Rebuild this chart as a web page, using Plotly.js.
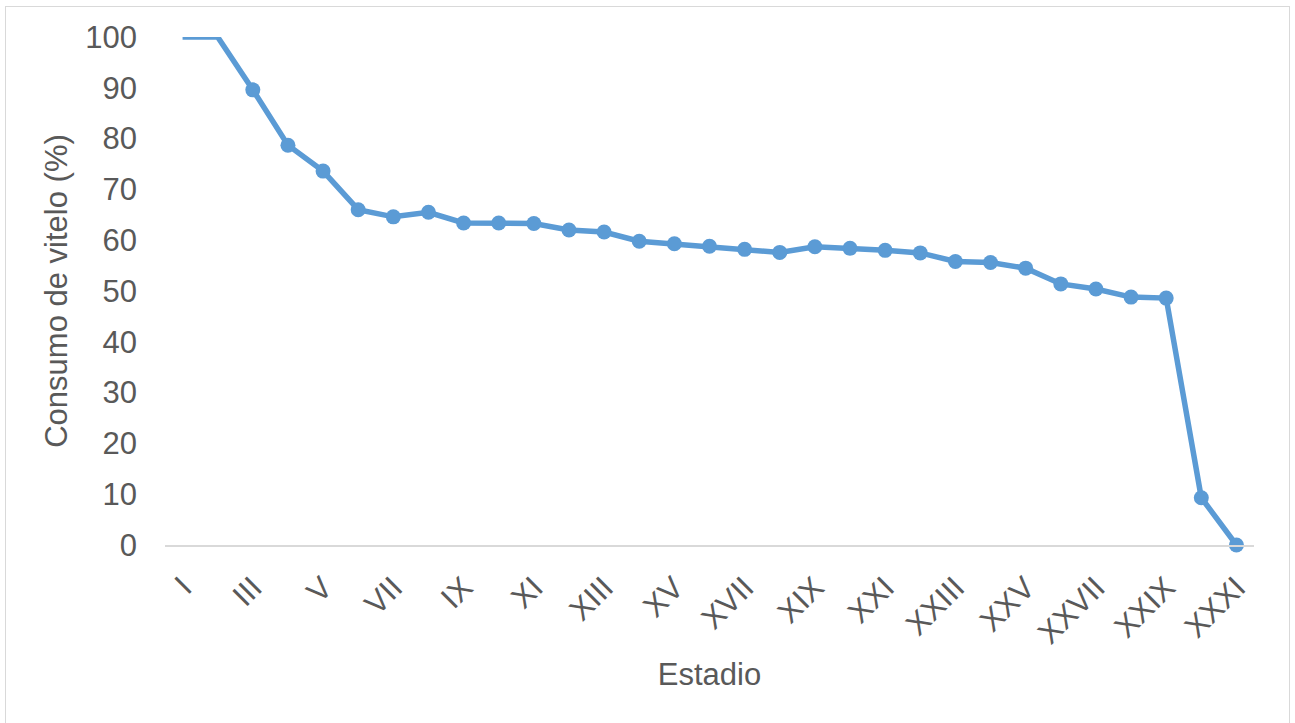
<!DOCTYPE html>
<html>
<head>
<meta charset="utf-8">
<script src="https://cdn.plot.ly/plotly-3.0.1.min.js"></script>
<style>
  html, body { margin: 0; padding: 0; background: #fff; }
  #chart { width: 1295px; height: 723px; position: absolute; left: 0; top: 0; }
  #frame { position: absolute; left: 5px; top: 6px; width: 1283px; height: 730px; border: 1.5px solid #d9d9d9; pointer-events: none; }
</style>
</head>
<body>
<div id="chart"></div>
<div id="frame"></div>
<script>
const stages = ["I","II","III","IV","V","VI","VII","VIII","IX","X","XI","XII","XIII","XIV","XV","XVI","XVII","XVIII","XIX","XX","XXI","XXII","XXIII","XXIV","XXV","XXVI","XXVII","XXVIII","XXIX","XXX","XXXI"];
const consumo = [100,100,89.6,78.7,73.6,66.0,64.6,65.5,63.4,63.4,63.3,62.0,61.6,59.8,59.3,58.8,58.2,57.6,58.7,58.4,58.0,57.5,55.8,55.6,54.5,51.4,50.4,48.8,48.6,9.3,0];
const showMarker = [false,false,true,true,true,true,true,true,true,true,true,true,true,true,true,true,true,true,true,true,true,true,true,true,true,true,true,true,true,true,true];
const tickLabels = stages.filter((s, i) => i % 2 === 0);
const yTicks = [0,10,20,30,40,50,60,70,80,90,100];

const font = "Liberation Sans, Arial, sans-serif";
const gray = "#595959";
const fs = 31;

const trace = {
  x: stages,
  y: consumo,
  type: "scatter",
  mode: "lines+markers",
  cliponaxis: false,
  line: { color: "#5b9bd5", width: 5.5 },
  marker: { color: "#5b9bd5", opacity: 1, size: showMarker.map(m => m ? 15 : 0), line: { width: 0 } },
  hoverinfo: "x+y"
};

const layout = {
  width: 1295,
  height: 723,
  margin: { l: 165, r: 41, t: 37, b: 178 },
  paper_bgcolor: "#ffffff",
  plot_bgcolor: "#ffffff",
  showlegend: false,
  font: { family: font, color: gray, size: fs },
  xaxis: {
    type: "category",
    categoryorder: "array",
    categoryarray: stages,
    range: [-0.5, stages.length - 0.5],
    tickmode: "array",
    tickvals: tickLabels,
    ticktext: tickLabels,
    tickangle: -45,
    ticks: "",
    showgrid: false,
    zeroline: false,
    showline: true,
    linecolor: "#d9d9d9",
    linewidth: 2,
    ticklabelstandoff: 10,
    tickfont: { family: font, color: gray, size: fs },
    title: { text: "Estadio", font: { family: font, color: gray, size: fs }, standoff: 14 },
    automargin: false
  },
  yaxis: {
    range: [0, 100],
    tickmode: "array",
    tickvals: yTicks,
    ticks: "",
    showgrid: false,
    zeroline: false,
    showline: false,
    ticklabelstandoff: 27,
    tickfont: { family: font, color: gray, size: fs },
    title: { text: "Consumo de vitelo (%)", font: { family: font, color: gray, size: fs }, standoff: 8 },
    automargin: false
  }
};

Plotly.newPlot("chart", [trace], layout, { displayModeBar: false, staticPlot: true });
</script>
</body>
</html>
